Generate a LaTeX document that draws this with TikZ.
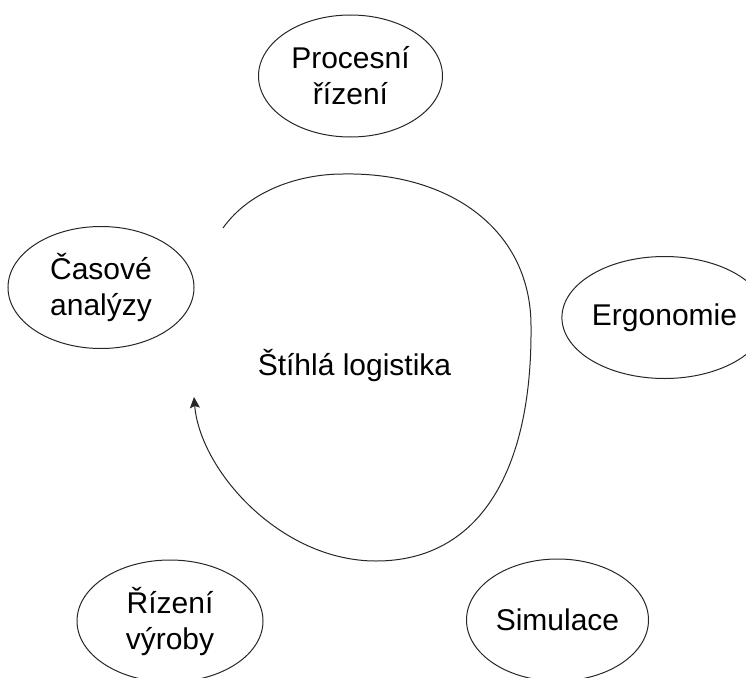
\documentclass[tikz,border=0pt]{standalone}
\usepackage{fontspec}
\setmainfont{Liberation Sans}
\usetikzlibrary{shapes.geometric,arrows.meta}
\begin{document}
\begin{tikzpicture}[x=1pt,y=-1pt,
  bubble/.style={draw=black!85, line width=1pt, ellipse, inner sep=0pt,
    minimum width=#1, minimum height=122pt, align=center,
    font=\fontsize{30}{36}\selectfont},
  bubble/.default=184pt,
  label/.style={font=\fontsize{30}{36}\selectfont, align=center},
  loop/.style={draw=black!85, line width=1pt, -{Stealth[length=11pt,width=10pt,inset=2pt]}}]
\useasboundingbox (0,0) rectangle (746,677);
\node[bubble=184pt] (proc) at (350.5,76) {Procesní\\řízení};
\node[bubble=186pt] (cas) at (101,287.5) {Časové\\analýzy};
\node[bubble=184pt] (ergo) at (664.5,317.5) {Ergonomie};
\node[bubble=186pt] (riz) at (170,621) {Řízení\\výroby};
\node[bubble=182pt] (sim) at (557.5,620) {Simulace};
\node[label] (stih) at (354.5,365) {Štíhlá logistika};
\coordinate (c0) at (223,228);
\coordinate (c1) at (343,174);
\coordinate (c2) at (531,328);
\coordinate (c3) at (376,561);
\coordinate (c4) at (194,397);
\draw[loop] (c0) .. controls (250,190) and (300,174) .. (c1)
  .. controls (450,172) and (532,230) .. (c2)
  .. controls (532,470) and (480,561) .. (c3)
  .. controls (280,561) and (200,470) .. (c4);
\end{tikzpicture}
\end{document}
